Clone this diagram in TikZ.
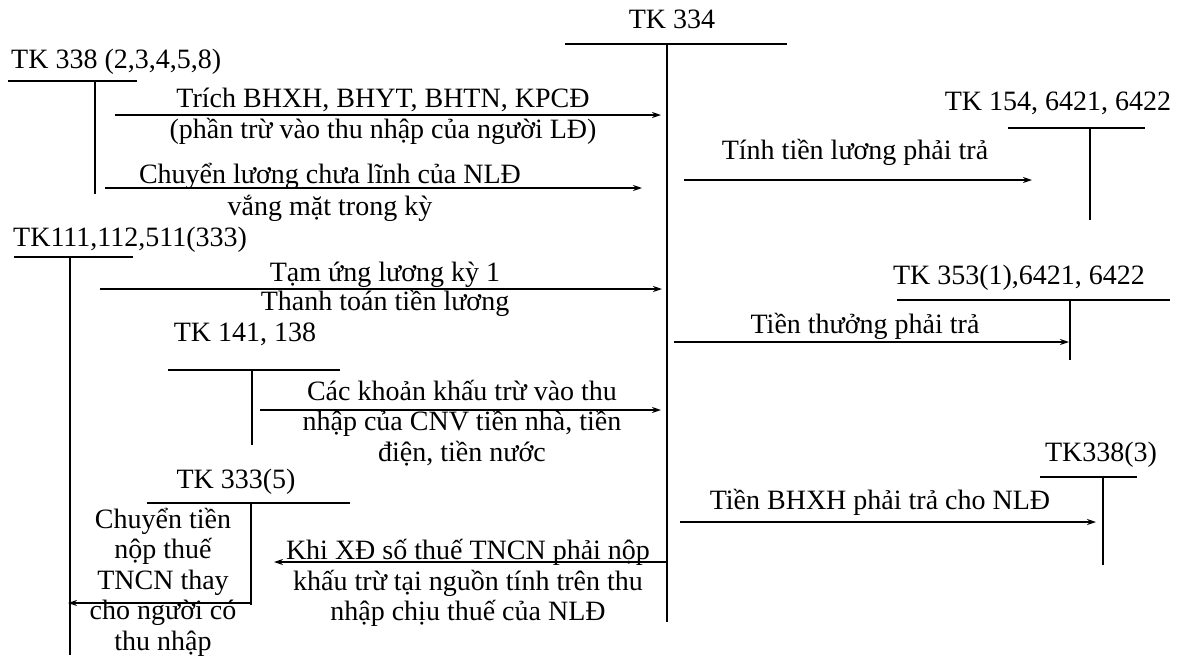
\documentclass[tikz,border=0pt]{standalone}
\usepackage{fontspec}
\setmainfont{Liberation Serif}
\usetikzlibrary{arrows.meta}
\tikzset{
  ln/.style={line width=1.3pt},
  arr/.style={line width=1.3pt,-{Stealth[length=9pt,width=6pt]}},
  lbl/.style={inner sep=0pt,font=\fontsize{28}{30.5}\selectfont,align=center},
}
\begin{document}
\begin{tikzpicture}[x=1pt,y=-1pt]
\useasboundingbox (0,0) rectangle (1202,657);
% TK 334
\node[lbl] (t334) at (672,19) {TK 334};
\draw[ln] (565,44) -- (787,44);
\coordinate (c334top) at (667,44);
\coordinate (c334bot) at (667,622);
\draw[ln] (c334top) -- (c334bot);
% TK 338 (2,3,4,5,8)
\node[lbl,anchor=west] (t338) at (11,62) {TK 338 (2,3,4,5,8)};
\draw[ln] (8,81) -- (137,81);
\draw[ln] (95,81) -- (95,194);
\coordinate (a1s) at (115,115); \coordinate (a1e) at (661,115);
\draw[arr] (a1s) -- (a1e);
\node[lbl] (l1a) at (383,100) {Trích BHXH, BHYT, BHTN, KPCĐ};
\node[lbl] (l1b) at (383,131) {(phần trừ vào thu nhập của người LĐ)};
\coordinate (a2s) at (105,188); \coordinate (a2e) at (642,188);
\draw[arr] (a2s) -- (a2e);
\node[lbl] (l2a) at (330,176) {Chuyển lương chưa lĩnh của NLĐ};
\node[lbl] (l2b) at (330,208) {vắng mặt trong kỳ};
% TK111
\node[lbl,anchor=west] (t111) at (13,240) {TK111,112,511(333)};
\draw[ln] (14,257) -- (133,257);
\coordinate (c111top) at (70,257);
\coordinate (c111bot) at (70,655);
\draw[ln] (c111top) -- (c111bot);
\coordinate (a3s) at (100,289); \coordinate (a3e) at (662,289);
\draw[arr] (a3s) -- (a3e);
\node[lbl] (l3a) at (385,275) {Tạm ứng lương kỳ 1};
\node[lbl] (l3b) at (385,303) {Thanh toán tiền lương};
% TK 141,138
\node[lbl] (t141) at (245,334) {TK 141, 138};
\draw[ln] (168,370) -- (340,370);
\draw[ln] (252,370) -- (252,445);
\coordinate (a4s) at (260,410); \coordinate (a4e) at (661,410);
\draw[arr] (a4s) -- (a4e);
\node[lbl] (l4) at (462,423) {Các khoản khấu trừ vào thu\\nhập của CNV tiền nhà, tiền\\điện, tiền nước};
% TK 333(5)
\node[lbl] (t3335) at (236,482) {TK 333(5)};
\draw[ln] (147,503) -- (350,503);
\coordinate (c3335top) at (251,503);
\coordinate (c3335bot) at (251,605);
\draw[ln] (c3335top) -- (c3335bot);
\node[lbl] (l5) at (163,582) {Chuyển tiền\\nộp thuế\\TNCN thay\\cho người có\\thu nhập};
\coordinate (a5s) at (251,603); \coordinate (a5e) at (68,603);
\draw[arr] (a5s) -- (a5e);
\coordinate (a6s) at (667,562); \coordinate (a6e) at (274,562);
\draw[arr] (a6s) -- (a6e);
\node[lbl] (l6) at (468,583) {Khi XĐ số thuế TNCN phải nộp\\khấu trừ tại nguồn tính trên thu\\nhập chịu thuế của NLĐ};
% TK 154
\node[lbl] (t154) at (1058,103) {TK 154, 6421, 6422};
\draw[ln] (1008,128) -- (1145,128);
\draw[ln] (1090,128) -- (1090,220);
\coordinate (a7s) at (684,180); \coordinate (a7e) at (1032,180);
\draw[arr] (a7s) -- (a7e);
\node[lbl] (l7) at (855,152) {Tính tiền lương phải trả};
% TK 353
\node[lbl] (t353) at (1019,278) {TK 353(1),6421, 6422};
\draw[ln] (897,300) -- (1170,300);
\draw[ln] (1070,300) -- (1070,360);
\coordinate (a8s) at (674,342); \coordinate (a8e) at (1069,342);
\draw[arr] (a8s) -- (a8e);
\node[lbl] (l8) at (865,326) {Tiền thưởng phải trả};
% TK 338(3)
\node[lbl] (t3383) at (1101,455) {TK338(3)};
\draw[ln] (1040,477) -- (1137,477);
\draw[ln] (1103,477) -- (1103,565);
\coordinate (a9s) at (680,522); \coordinate (a9e) at (1096,522);
\draw[arr] (a9s) -- (a9e);
\node[lbl] (l9) at (880,502) {Tiền BHXH phải trả cho NLĐ};
\end{tikzpicture}
\end{document}
